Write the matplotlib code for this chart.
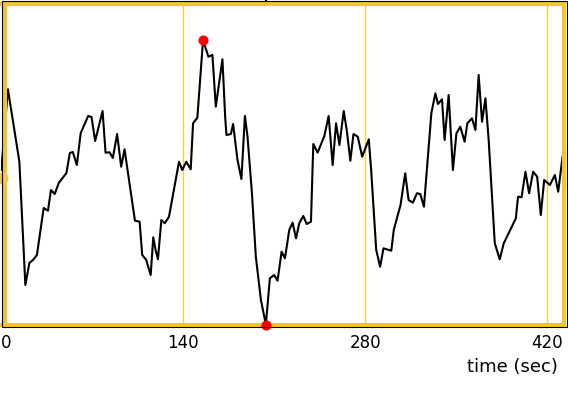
import numpy as np
import matplotlib; matplotlib.use("Agg")
import matplotlib.pyplot as plt
from matplotlib.patches import Rectangle

# trace (time in sec, value in arbitrary units)
t = [0.0, 5.1, 13.9, 18.5, 21.6, 24.4, 27.4, 32.6, 35.9, 38.2, 41.1, 44.2, 50.1, 52.7, 55.0,
     58.1, 61.1, 66.8, 69.4, 72.2, 77.9, 80.2, 83.3, 85.8, 89.1, 92.2, 94.8, 102.8, 106.4,
     108.4, 111.5, 114.9, 116.9, 118.7, 120.5, 123.1, 125.7, 129.0, 136.7, 139.2, 142.3,
     145.7, 147.5, 150.8, 155.2, 159.3, 162.4, 165.0, 170.1, 172.2, 173.2, 176.6, 178.3,
     181.7, 184.7, 187.4, 189.4, 192.8, 195.8, 199.7, 203.5, 206.6, 209.9, 212.5, 215.6,
     218.2, 221.5, 224.1, 226.7, 229.2, 232.3, 234.9, 238.2, 240.0, 243.3, 248.5, 251.8,
     254.9, 257.5, 260.1, 263.4, 265.7, 268.5, 270.9, 274.2, 277.6, 282.7, 284.5, 288.4,
     291.4, 294.0, 300.0, 301.9, 307.1, 310.7, 313.3, 316.6, 319.7, 322.3, 325.1, 330.8,
     333.9, 335.9, 339.0, 341.0, 344.1, 347.4, 350.1, 353.1, 356.4, 358.5, 362.1, 364.7,
     367.2, 369.8, 372.4, 374.9, 379.6, 383.4, 386.5, 395.8, 397.5, 400.2, 403.2, 406.0,
     409.1, 412.2, 415.0, 417.6, 422.0, 425.8, 428.4, 431.8, 434.3]
val = [155, 235.7, 163.3, 40, 62, 65, 70, 117, 114.3, 135, 131, 142, 152, 172, 173,
       160, 192, 209, 208, 184, 214, 172.3, 172.7, 167, 191, 158.3, 175.7, 104.3, 103.3,
       70, 65, 50, 87.7, 75, 65.7, 105, 101.7, 108.3, 163.3, 155, 163.3,
       155.7, 201.7, 207.3, 285, 268.3, 270, 218.3, 265.7, 208.3, 190, 191, 201,
       165, 146, 209, 188.3, 131.7, 68.3, 25, 0.5, 46.7, 50, 44.3, 73.3,
       66.7, 95, 102.3, 86.7, 101.7, 109, 101, 103.3, 181, 172.3, 189, 209,
       160, 201.7, 180, 214, 195, 164.3, 191, 188.3, 168.3, 185.7, 155, 75,
       58.3, 76.7, 74.3, 95, 120, 151.7, 125, 122.3, 131.7, 131, 118.3, 211.7,
       231.7, 221, 225.7, 185, 230, 155, 191.7, 198.3, 183.3, 201.7, 206.7, 195,
       250, 203.3, 226.7, 185, 81.7, 65.7, 81.7, 106.7, 128.3, 127.7, 153.3, 131.7,
       153.3, 148.3, 110, 145, 140, 150, 133.3, 169, 165]
start_marker = 147          # yellow marker at the left edge
xticks = [0, 140, 280, 420]

YELLOW = "#f4c430"
GRIDY = "#f3d040"

t = np.array(t); val = np.array(val)
imax, imin = val.argmax(), val.argmin()

fig = plt.figure(figsize=(5.68, 4.0), dpi=100)
W, H = 568, 400
ax = fig.add_axes([1.3/W, 1-324.7/H, (564.2-1.3)/W, 321.2/H])
ax.set_xlim(0, 433); ax.set_ylim(0.3, 321.5)

for x in xticks[1:]:
    ax.axvline(x, color=GRIDY, lw=1.0, zorder=1)
ax.plot(t, val, color="black", lw=1.5, zorder=2)
ax.plot(t[[imax, imin]], val[[imax, imin]], "o", color="red", ms=6.3, zorder=4, clip_on=False)
ax.axvline(t[imin], ymin=1.0, ymax=1.012, color="black", lw=1.5, clip_on=False, zorder=2)

for s in ax.spines.values():
    s.set_color(YELLOW); s.set_linewidth(3)
ax.spines["left"].set_position(("axes", 3.4/562.9))
fig.add_artist(Rectangle((2/W, 1-327/H), 565/W, 326.5/H, transform=fig.transFigure,
                         fill=False, edgecolor="black", lw=0.8))
# yellow marker drawn on top of the frame
ax.scatter([0.6], [start_marker], s=60, color="#f2c94c", zorder=6, clip_on=False)

ax.set_xticks(xticks)
ax.set_yticks([])
ax.tick_params(axis="x", length=0, pad=7, labelsize=12)
ax.get_xticklabels()[0].set_horizontalalignment("left")
ax.set_xlabel("time (sec)", fontsize=13, loc="right")
ax.xaxis.set_label_coords((558-1.3)/562.9, -0.104)

fig.savefig("out.png", dpi=100)
